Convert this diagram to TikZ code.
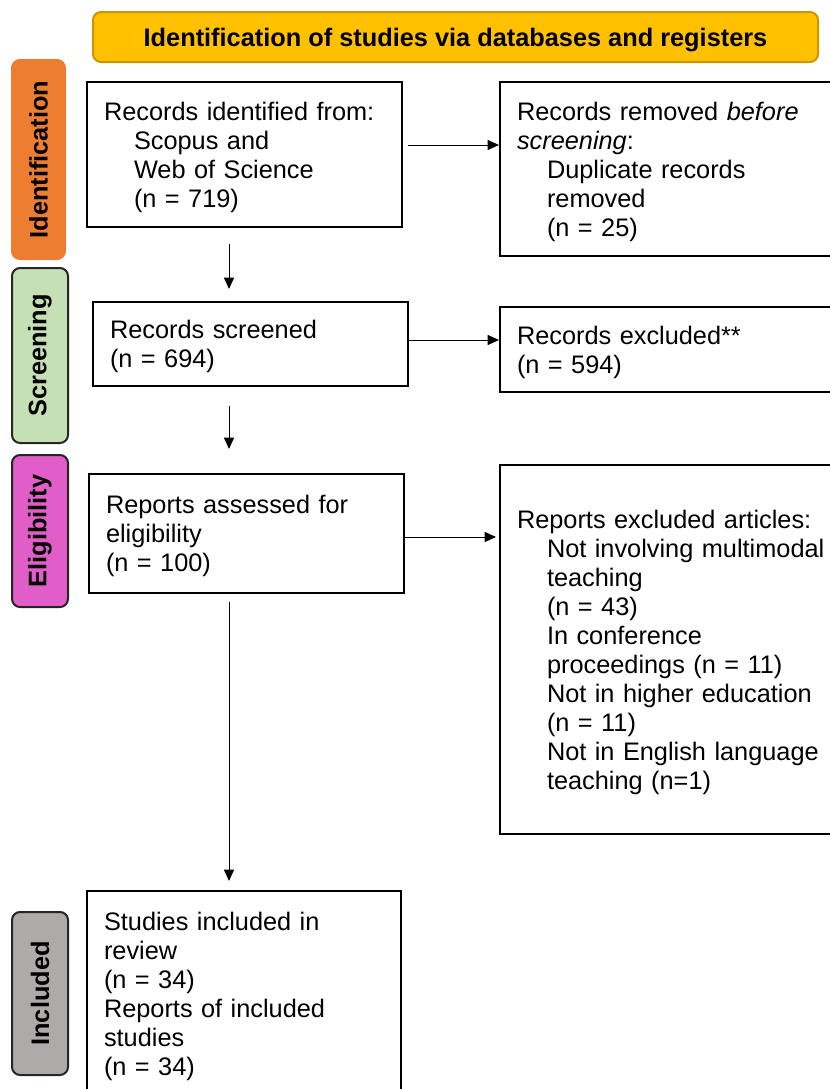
\documentclass[tikz,border=0pt]{standalone}
\usepackage{fontspec}
\setmainfont{Liberation Sans}
\usetikzlibrary{arrows.meta}
\definecolor{bannerfill}{HTML}{FFC000}
\definecolor{bannerdraw}{HTML}{C99700}
\definecolor{idfill}{HTML}{ED7D31}
\definecolor{scrfill}{HTML}{C5E0B4}
\definecolor{eligfill}{HTML}{E15DC8}
\definecolor{incfill}{HTML}{AEAAAA}
\definecolor{labdraw}{HTML}{262626}
\begin{document}
\begin{tikzpicture}[x=0.75pt,y=-0.75pt,
  every node/.style={font=\fontsize{19}{21.75}\selectfont},
  box/.style={draw=black, line width=1.5pt, fill=white, align=left, inner xsep=12.75pt, inner ysep=0pt, execute at begin node={\rule{0pt}{18pt}}},
  leftbox/.style={box, text width=210.75pt},
  rightbox/.style={box, text width=259.5pt},
  sidelab/.style={rotate=90, rounded corners=6pt, line width=1.5pt, draw=labdraw, minimum height=42pt, inner sep=0pt, font=\fontsize{19}{21.75}\selectfont\bfseries},
  arr/.style={-{Triangle[length=8.5pt,width=7.5pt]}, line width=0.75pt}]
\useasboundingbox (0,0) rectangle (830,1089);
\clip (0,0) rectangle (830,1089);

% banner
\node[draw=bannerdraw, fill=bannerfill, line width=1.5pt, rounded corners=6pt, minimum width=543.75pt, minimum height=37.5pt, inner sep=0pt, text depth=0pt, font=\fontsize{19}{21.75}\selectfont\bfseries] (banner) at (455.5,37) {Identification of studies via databases and registers};

% side labels
\node[sidelab, draw=idfill, fill=idfill, minimum width=149.25pt, minimum height=39.75pt] (lid) at (38.5,159.5) {Identification};
\node[sidelab, fill=scrfill, minimum width=131.25pt] (lscr) at (40,355.5) {Screening};
\node[sidelab, fill=eligfill, minimum width=114pt] (lelig) at (40,531) {Eligibility};
\node[sidelab, fill=incfill, minimum width=122.25pt] (linc) at (40,993.5) {Included};

% boxes
\node[leftbox, minimum height=108.75pt] (box1) at (244.5,154.5) {Records identified from:\\
\hspace*{22.5pt}Scopus and\\
\hspace*{22.5pt}Web of Science\\
\hspace*{22.5pt}(n = 719)};

\node[rightbox, minimum height=130.5pt] (box2) at (690,169) {Records removed \textit{before}\\
\textit{screening}:\\
\hspace*{22.5pt}Duplicate records\\
\hspace*{22.5pt}removed\\
\hspace*{22.5pt}(n = 25)};

\node[leftbox, minimum height=63pt] (box3) at (250.5,344) {Records screened\\
(n = 694)};

\node[rightbox, minimum height=63.75pt] (box4) at (690,349.5) {Records excluded**\\
(n = 594)};

\node[leftbox, minimum height=89.25pt] (box5) at (246.5,533.5) {Reports assessed for\\
eligibility\\
(n = 100)};

\node[rightbox, minimum height=276.75pt] (box6) at (690,649.5) {Reports excluded articles:\\
\hspace*{22.5pt}Not involving multimodal\\
\hspace*{22.5pt}teaching\\
\hspace*{22.5pt}(n = 43)\\
\hspace*{22.5pt}In conference\\
\hspace*{22.5pt}proceedings (n = 11)\\
\hspace*{22.5pt}Not in higher education\\
\hspace*{22.5pt}(n = 11)\\
\hspace*{22.5pt}Not in English language\\
\hspace*{22.5pt}teaching (n=1)};

\node[box, text width=210pt, minimum height=153.75pt] (box7) at (244,993.5) {Studies included in\\
review\\
(n = 34)\\
Reports of included\\
studies\\
(n = 34)};

% connectors
\coordinate (vx) at (229,0);
\coordinate (a1y) at (0,145);
\coordinate (a3y) at (0,340);
\coordinate (a5y) at (0,537);
\draw[arr, shorten <=3.75pt] (box1.east |- a1y) -- (box2.west |- a1y);
\draw[arr, shorten <=12pt, shorten >=9pt] (box1.south -| vx) -- (box3.north -| vx);
\draw[arr] (box3.east |- a3y) -- (box4.west |- a3y);
\draw[arr, shorten <=14.25pt, shorten >=18pt] (box3.south -| vx) -- (box5.north -| vx);
\draw[arr, shorten >=2.25pt] (box5.east |- a5y) -- (box6.west |- a5y);
\draw[arr, shorten <=6pt, shorten >=6.75pt] (box5.south -| vx) -- (box7.north -| vx);
\end{tikzpicture}
\end{document}
